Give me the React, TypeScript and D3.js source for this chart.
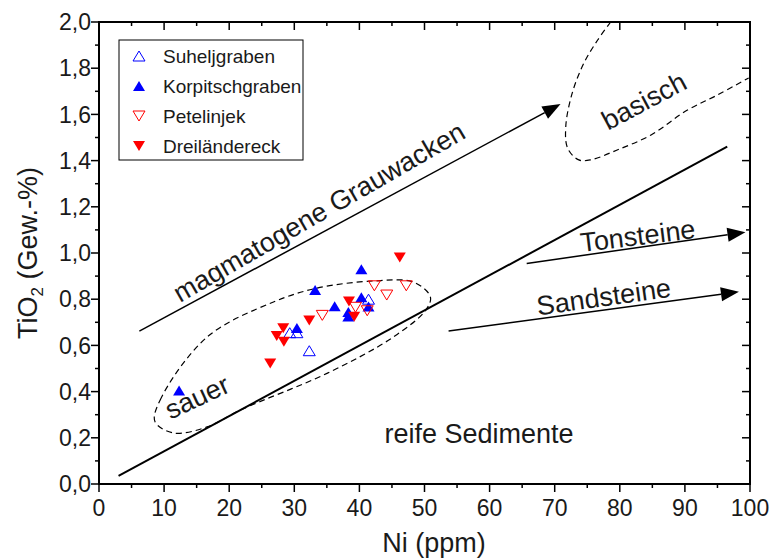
import { useEffect } from 'react';
import * as d3 from 'd3';

// data (Ni ppm, TiO2 wt-%)
const suheljgraben: [number, number][] = [
  [29.3, 0.655], [30.4, 0.655], [32.3, 0.577], [41.4, 0.8],
];
const korpitschgraben: [number, number][] = [
  [12.3, 0.405], [30.4, 0.675], [33.2, 0.84], [36.2, 0.77], [38.3, 0.745],
  [38.3, 0.725], [40.3, 0.93], [40.3, 0.808], [41.4, 0.768],
];
const petelinjek: [number, number][] = [
  [34.3, 0.73], [39.4, 0.765], [41.2, 0.75], [42.3, 0.858], [44.2, 0.818], [47.2, 0.858],
];
const dreilaendereck: [number, number][] = [
  [26.3, 0.522], [27.3, 0.641], [28.3, 0.674], [28.4, 0.616], [32.3, 0.708],
  [38.4, 0.79], [39.2, 0.724], [46.2, 0.98],
];

// field boundaries
const boundaryLine: [number, number][] = [[3, 0.035], [96.5, 1.46]];
const grauwackenArrow: [number, number][] = [[6.2, 0.662], [70.9, 1.645]];
const tonsteineArrow: [number, number][] = [[65.7, 0.955], [99.3, 1.09]];
const sandsteineArrow: [number, number][] = [[53.7, 0.662], [98.3, 0.832]];
const sauerField: [number, number][] = [
  [8.6, 0.27], [9.4, 0.364], [16.6, 0.636], [26.8, 0.788], [33.5, 0.848], [42.2, 0.879],
  [48.3, 0.874], [50.9, 0.81], [50.2, 0.753], [45.2, 0.636], [35.1, 0.48], [21.7, 0.32],
  [16.6, 0.247], [11.4, 0.221],
];
const basischField: [number, number][] = [
  [78.6, 2.0], [76.6, 1.922], [74.5, 1.823], [72.7, 1.693], [71.7, 1.547], [72.0, 1.453],
  [73.7, 1.403], [75.5, 1.403], [79.6, 1.446], [84.8, 1.511], [90.4, 1.619], [95.0, 1.684],
  [99.8, 1.758],
];

const xTicks = [0, 10, 20, 30, 40, 50, 60, 70, 80, 90, 100];
const yTicks = [0, 0.2, 0.4, 0.6, 0.8, 1.0, 1.2, 1.4, 1.6, 1.8, 2.0];

const W = 777;
const H = 559;
const FONT = '"Liberation Sans", Arial, sans-serif';

const x = d3.scaleLinear().domain([0, 100]).range([99, 750]);
const y = d3.scaleLinear().domain([0, 2]).range([484, 22]);

const line = d3.line<[number, number]>().x(d => x(d[0])).y(d => y(d[1]));

const triUp = (cx: number, cy: number) =>
  `M${cx - 6},${cy + 5}L${cx + 6},${cy + 5}L${cx},${cy - 5}Z`;
const triDown = (cx: number, cy: number) =>
  `M${cx - 6},${cy - 5}L${cx + 6},${cy - 5}L${cx},${cy + 5}Z`;

const Arrow = ({ pts }: { pts: [number, number][] }) => {
  const [x0, y0] = [x(pts[0][0]), y(pts[0][1])];
  const [x1, y1] = [x(pts[1][0]), y(pts[1][1])];
  const a = Math.atan2(y1 - y0, x1 - x0);
  const len = 18, half = 7;
  const bx = x1 - len * Math.cos(a), by = y1 - len * Math.sin(a);
  const head = `M${x1},${y1}L${bx - half * Math.sin(a)},${by + half * Math.cos(a)}L${bx + half * Math.sin(a)},${by - half * Math.cos(a)}Z`;
  return (
    <g>
      <line x1={x0} y1={y0} x2={bx} y2={by} stroke="#000" strokeWidth={1.5} />
      <path d={head} fill="#000" />
    </g>
  );
};

const Label = ({ cx, cy, angle, text, size = 27 }: { cx: number; cy: number; angle: number; text: string; size?: number }) => (
  <text
    transform={`translate(${cx},${cy}) rotate(${angle})`}
    textAnchor="middle"
    dominantBaseline="middle"
    fontSize={size}
    fill="#1a1a1a"
  >
    {text}
  </text>
);

export default function App() {
  useEffect(() => {
    document.body.style.margin = '0';
  }, []);

  const [x0, x1] = x.range();
  const [y0, y1] = y.range();
  const xMinor = d3.range(5, 100, 10);
  const yMinor = d3.range(0.1, 2, 0.2);
  const sauerPath = d3.line<[number, number]>().x(d => x(d[0])).y(d => y(d[1])).curve(d3.curveCatmullRomClosed);
  const basischPath = d3.line<[number, number]>().x(d => x(d[0])).y(d => y(d[1])).curve(d3.curveCatmullRom);

  return (
    <svg width={W} height={H} style={{ display: 'block', fontFamily: FONT, background: '#fff' }}>
      <defs>
        <clipPath id="plot">
          <rect x={x0} y={y1} width={x1 - x0} height={y0 - y1} />
        </clipPath>
      </defs>

      {/* fields and arrows */}
      <g clipPath="url(#plot)" fill="none">
        <path d={line(boundaryLine)!} stroke="#000" strokeWidth={2} />
        <path d={sauerPath(sauerField)!} stroke="#000" strokeWidth={1.2} strokeDasharray="6,4" />
        <path d={basischPath(basischField)!} stroke="#000" strokeWidth={1.2} strokeDasharray="6,4" />
      </g>
      <Arrow pts={grauwackenArrow} />
      <Arrow pts={tonsteineArrow} />
      <Arrow pts={sandsteineArrow} />

      {/* annotations */}
      <Label cx={320} cy={214} angle={-30} text="magmatogene Grauwacken" />
      <Label cx={645} cy={103} angle={-28} text="basisch" />
      <Label cx={638} cy={238} angle={-7} text="Tonsteine" />
      <Label cx={604} cy={299} angle={-8} text="Sandsteine" />
      <Label cx={198} cy={399} angle={-25} text="sauer" />
      <Label cx={479} cy={436} angle={0} text="reife Sedimente" />

      {/* data */}
      <g>
        {suheljgraben.map((d, i) => (
          <path key={`s${i}`} d={triUp(x(d[0]), y(d[1]))} fill="none" stroke="#0000ff" strokeWidth={1} />
        ))}
        {korpitschgraben.map((d, i) => (
          <path key={`k${i}`} d={triUp(x(d[0]), y(d[1]))} fill="#0000ff" />
        ))}
        {petelinjek.map((d, i) => (
          <path key={`p${i}`} d={triDown(x(d[0]), y(d[1]))} fill="none" stroke="#ff0000" strokeWidth={1} />
        ))}
        {dreilaendereck.map((d, i) => (
          <path key={`d${i}`} d={triDown(x(d[0]), y(d[1]))} fill="#ff0000" />
        ))}
      </g>

      {/* frame */}
      <rect x={x0} y={y1} width={x1 - x0} height={y0 - y1} fill="none" stroke="#000" strokeWidth={2} />

      {/* x ticks: bottom outward, top inward */}
      {xTicks.map(t => (
        <g key={`xt${t}`}>
          <line x1={x(t)} x2={x(t)} y1={y0} y2={y0 + 8} stroke="#000" strokeWidth={1.5} />
          <line x1={x(t)} x2={x(t)} y1={y1} y2={y1 + 8} stroke="#000" strokeWidth={1.5} />
          <text x={x(t)} y={y0 + 32} textAnchor="middle" fontSize={23} fill="#1a1a1a">{t}</text>
        </g>
      ))}
      {xMinor.map(t => (
        <g key={`xm${t}`}>
          <line x1={x(t)} x2={x(t)} y1={y0} y2={y0 + 4} stroke="#000" strokeWidth={1.5} />
          <line x1={x(t)} x2={x(t)} y1={y1} y2={y1 + 4} stroke="#000" strokeWidth={1.5} />
        </g>
      ))}

      {/* y ticks: left outward, right inward */}
      {yTicks.map(t => (
        <g key={`yt${t}`}>
          <line x1={x0} x2={x0 - 8} y1={y(t)} y2={y(t)} stroke="#000" strokeWidth={1.5} />
          <line x1={x1} x2={x1 - 8} y1={y(t)} y2={y(t)} stroke="#000" strokeWidth={1.5} />
          <text x={x0 - 8} y={y(t)} dy="0.36em" textAnchor="end" fontSize={23} fill="#1a1a1a">
            {t.toFixed(1).replace('.', ',')}
          </text>
        </g>
      ))}
      {yMinor.map(t => (
        <g key={`ym${t}`}>
          <line x1={x0} x2={x0 - 4} y1={y(t)} y2={y(t)} stroke="#000" strokeWidth={1.5} />
          <line x1={x1} x2={x1 - 4} y1={y(t)} y2={y(t)} stroke="#000" strokeWidth={1.5} />
        </g>
      ))}

      {/* axis titles */}
      <text x={434} y={552} textAnchor="middle" fontSize={27} fill="#1a1a1a">Ni (ppm)</text>
      <text transform={`translate(37,${(y0 + y1) / 2}) rotate(-90)`} textAnchor="middle" fontSize={27} fill="#1a1a1a">
        TiO<tspan fontSize={17} dy={6}>2</tspan><tspan dy={-6}> (Gew.-%)</tspan>
      </text>

      {/* legend */}
      <g>
        <rect x={119} y={40} width={184} height={120} fill="#fff" stroke="#000" strokeWidth={1} />
        {[
          { name: 'Suheljgraben', up: true, fill: 'none', color: '#0000ff' },
          { name: 'Korpitschgraben', up: true, fill: '#0000ff', color: '#0000ff' },
          { name: 'Petelinjek', up: false, fill: 'none', color: '#ff0000' },
          { name: 'Dreiländereck', up: false, fill: '#ff0000', color: '#ff0000' },
        ].map((e, i) => {
          const cy = 56 + i * 30;
          return (
            <g key={e.name}>
              <path
                d={e.up ? triUp(139, cy) : triDown(139, cy)}
                fill={e.fill}
                stroke={e.fill === 'none' ? e.color : 'none'}
                strokeWidth={1}
              />
              <text x={163} y={cy} dy="0.36em" fontSize={19} fill="#1a1a1a">{e.name}</text>
            </g>
          );
        })}
      </g>
    </svg>
  );
}
